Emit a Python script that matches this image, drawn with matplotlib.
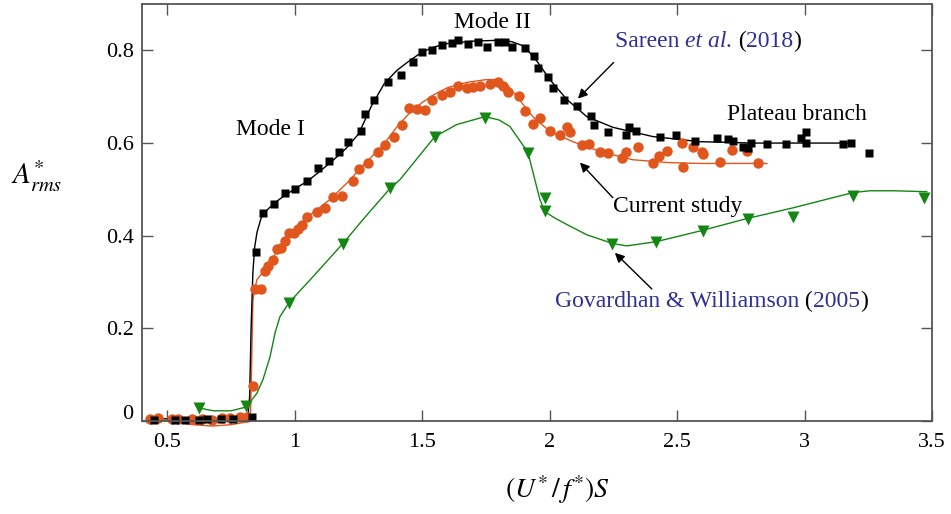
import numpy as np
import matplotlib
matplotlib.use("Agg")
import matplotlib.pyplot as plt
import matplotlib.transforms as mtransforms

plt.rcParams['font.family'] = ['Liberation Serif', 'DejaVu Serif']
plt.rcParams['mathtext.fontset'] = 'stix'

# Sareen et al. (2018) - black squares
sq_x = [0.447, 0.529, 0.569, 0.624, 0.655, 0.710, 0.757, 0.831, 0.847, 0.875, 0.918, 0.961,
        1.000, 1.047, 1.090, 1.133, 1.173, 1.208, 1.259, 1.275, 1.310, 1.365, 1.416, 1.463,
        1.498, 1.537, 1.576, 1.616, 1.639, 1.678, 1.718, 1.753, 1.796, 1.824, 1.851, 1.902,
        1.937, 1.953, 1.992, 2.012, 2.055, 2.106, 2.161, 2.173, 2.227, 2.298, 2.310, 2.337,
        2.431, 2.494, 2.569, 2.655, 2.698, 2.718, 2.757, 2.776, 2.788, 2.851, 2.925, 2.984,
        3.004, 3.004, 3.149, 3.180, 3.251]
sq_y = [0.003, 0.003, 0.003, 0.003, 0.005, 0.005, 0.005, 0.008, 0.365, 0.448, 0.469, 0.493,
        0.501, 0.519, 0.547, 0.562, 0.580, 0.603, 0.625, 0.662, 0.694, 0.732, 0.748, 0.774,
        0.796, 0.800, 0.811, 0.815, 0.822, 0.813, 0.819, 0.807, 0.818, 0.818, 0.807, 0.805,
        0.787, 0.763, 0.742, 0.718, 0.692, 0.681, 0.658, 0.638, 0.623, 0.618, 0.634, 0.627,
        0.614, 0.618, 0.605, 0.610, 0.608, 0.605, 0.592, 0.590, 0.601, 0.599, 0.599, 0.610,
        0.623, 0.601, 0.597, 0.601, 0.579]
sq_fit_x = [0.43, 0.6, 0.75, 0.815, 0.822, 0.828, 0.835, 0.842, 0.851, 0.871, 0.918, 0.96,
            1.008, 1.05, 1.1, 1.15, 1.2, 1.25, 1.3, 1.35, 1.4, 1.45, 1.5, 1.55, 1.6, 1.7,
            1.8, 1.85, 1.9, 1.953, 2.0, 2.067, 2.145, 2.247, 2.404, 2.588, 2.8, 3.0, 3.18]
sq_fit_y = [0.005, 0.004, 0.005, 0.007, 0.05, 0.2, 0.32, 0.375, 0.407, 0.445, 0.47, 0.487,
            0.504, 0.518, 0.54, 0.563, 0.588, 0.62, 0.68, 0.728, 0.757, 0.778, 0.797, 0.808,
            0.815, 0.82, 0.822, 0.819, 0.809, 0.774, 0.737, 0.694, 0.657, 0.634, 0.614, 0.603,
            0.600, 0.600, 0.600]

# Current study - orange circles
ci_x = [0.431, 0.463, 0.518, 0.541, 0.596, 0.635, 0.675, 0.714, 0.745, 0.784, 0.812, 0.835,
        0.843, 0.867, 0.882, 0.894, 0.914, 0.929, 0.945, 0.961, 0.976, 0.996, 1.012, 1.027,
        1.047, 1.086, 1.118, 1.149, 1.184, 1.227, 1.251, 1.286, 1.325, 1.353, 1.388, 1.420,
        1.447, 1.478, 1.510, 1.537, 1.576, 1.608, 1.639, 1.675, 1.698, 1.725, 1.765, 1.796,
        1.816, 1.835, 1.878, 1.902, 1.933, 1.961, 2.000, 2.039, 2.067, 2.078, 2.125, 2.153,
        2.196, 2.227, 2.282, 2.298, 2.345, 2.404, 2.427, 2.459, 2.522, 2.561, 2.518, 2.596,
        2.600, 2.667, 2.714, 2.773, 2.816]
ci_y = [0.004, 0.006, 0.004, 0.004, 0.004, 0.004, 0.002, 0.006, 0.006, 0.009, 0.009, 0.076,
        0.284, 0.284, 0.324, 0.335, 0.348, 0.372, 0.374, 0.389, 0.406, 0.406, 0.415, 0.424,
        0.441, 0.452, 0.460, 0.484, 0.486, 0.519, 0.545, 0.556, 0.580, 0.595, 0.614, 0.640,
        0.675, 0.673, 0.671, 0.692, 0.703, 0.710, 0.723, 0.718, 0.720, 0.723, 0.727, 0.732,
        0.723, 0.710, 0.701, 0.670, 0.642, 0.655, 0.627, 0.618, 0.634, 0.623, 0.595, 0.599,
        0.580, 0.578, 0.567, 0.580, 0.592, 0.558, 0.571, 0.582, 0.549, 0.592, 0.601, 0.580,
        0.576, 0.560, 0.586, 0.582, 0.558]
ci_fit_x = [0.431, 0.5, 0.6, 0.675, 0.75, 0.812, 0.826, 0.83, 0.835, 0.842, 0.851, 0.89,
            0.929, 0.98, 1.047, 1.137, 1.216, 1.255, 1.345, 1.4, 1.45, 1.5, 1.55, 1.6, 1.675,
            1.75, 1.792, 1.831, 1.871, 1.933, 2.0, 2.09, 2.196, 2.325, 2.459, 2.588, 2.851]
ci_fit_y = [0.004, 0.0, -0.008, -0.011, -0.008, -0.002, 0.02, 0.12, 0.26, 0.284, 0.305, 0.333,
            0.365, 0.402, 0.439, 0.478, 0.52, 0.545, 0.595, 0.635, 0.665, 0.688, 0.706, 0.72,
            0.731, 0.737, 0.737, 0.727, 0.70, 0.657, 0.625, 0.603, 0.582, 0.564, 0.558, 0.556,
            0.556]

# Govardhan & Williamson (2005) - green triangles
tr_x = [0.624, 0.808, 0.976, 1.188, 1.373, 1.549, 1.745, 1.914, 1.980, 1.980, 2.243, 2.416,
        2.600, 2.776, 2.953, 3.188, 3.467]
tr_y = [0.028, 0.032, 0.255, 0.383, 0.502, 0.614, 0.655, 0.579, 0.482, 0.454, 0.383, 0.387,
        0.411, 0.437, 0.441, 0.486, 0.482]
tr_fit_x = [0.624, 0.68, 0.75, 0.808, 0.83, 0.851, 0.875, 0.902, 0.922, 0.941, 0.976, 1.06,
            1.188, 1.267, 1.373, 1.412, 1.549, 1.635, 1.745, 1.80, 1.843, 1.914, 1.941, 1.961,
            1.98, 2.02, 2.067, 2.145, 2.247, 2.302, 2.416, 2.588, 2.773, 2.953, 3.188, 3.255,
            3.35, 3.478]
tr_fit_y = [0.028, 0.022, 0.022, 0.03, 0.045, 0.06, 0.09, 0.138, 0.19, 0.225, 0.255, 0.305,
            0.383, 0.435, 0.502, 0.521, 0.614, 0.64, 0.657, 0.65, 0.636, 0.58, 0.521, 0.478,
            0.452, 0.438, 0.424, 0.402, 0.383, 0.378, 0.387, 0.41, 0.437, 0.46, 0.493, 0.497,
            0.497, 0.495]

xticks = [0.5, 1, 1.5, 2, 2.5, 3, 3.5]
xticklabels = ['0.5', '1', '1.5', '2', '2.5', '3', '3.5']
yticks = [0, 0.2, 0.4, 0.6, 0.8]
yticklabels = ['0', '0.2', '0.4', '0.6', '0.8']

orange = '#E0561C'
green = '#138613'
blue = '#2E3192'
fs = 17

fig = plt.figure(figsize=(9.51, 5.14), dpi=100)
ax = fig.add_axes([0.1493, 0.181, 0.831, 0.811])

ax.plot(tr_fit_x, tr_fit_y, color=green, lw=1.0, clip_on=False)
ax.plot(ci_fit_x, ci_fit_y, color=orange, lw=1.0, clip_on=False)
ax.plot(sq_fit_x, sq_fit_y, color='black', lw=1.0, clip_on=False)
ax.plot(tr_x, tr_y, 'v', color=green, ms=8.5, mec='none', clip_on=False)
ax.plot(ci_x, ci_y, 'o', color=orange, ms=7.5, mec='none', clip_on=False)
ax.plot(sq_x, sq_y, 's', color='black', ms=6.3, mec='none', clip_on=False)

ax.set_xlim(0.4, 3.5)
ax.set_ylim(0, 0.9)
ax.set_xticks(xticks)
ax.set_xticklabels(xticklabels)
ax.set_yticks(yticks)
ax.set_yticklabels(yticklabels)
ax.tick_params(direction='in', length=8, width=1, color='#555555', top=True, right=True,
               labelsize=16)
ax.tick_params(axis='x', pad=9)
ax.tick_params(axis='y', pad=6)
for s in ax.spines.values():
    s.set_color('#555555')
    s.set_linewidth(1.3)

# the zero label sits a bit above its tick
off = mtransforms.ScaledTranslation(0, 9 / 100, fig.dpi_scale_trans)
ylabs = ax.get_yticklabels()
ylabs[0].set_transform(ylabs[0].get_transform() + off)

ax.set_xlabel(r'$(U^{*}\,/\,f^{*})S$', fontsize=20)
ax.xaxis.set_label_coords(0.525, -0.125)
ax.set_ylabel(r'$A^{*}_{rms}$', fontsize=21, rotation=0, labelpad=0)
ax.yaxis.set_label_coords(-0.133, 0.545)

ax.text(0.902, 0.629, 'Mode I', fontsize=fs, ha='center', va='center')
ax.text(1.776, 0.860, 'Mode II', fontsize=fs, ha='center', va='center')
ax.text(2.969, 0.662, 'Plateau branch', fontsize=fs, ha='center', va='center')
ax.text(2.502, 0.463, 'Current study', fontsize=fs, ha='center', va='center')


def multi_text(x, y, pieces):
    t = ax.text(x, y, pieces[0][0], color=pieces[0][1], style=pieces[0][2],
                fontsize=fs, ha='left', va='center')
    for s, c, st in pieces[1:]:
        t = ax.annotate(s, xycoords=t, xy=(1, 0), va='bottom', color=c, style=st,
                        fontsize=fs)


multi_text(2.255, 0.819, [('Sareen ', blue, 'normal'), ('et al.', blue, 'italic'),
                          (' (', 'black', 'normal'), ('2018', blue, 'normal'),
                          (')', 'black', 'normal')])
multi_text(2.02, 0.257, [('Govardhan & Williamson', blue, 'normal'),
                         (' (', 'black', 'normal'), ('2005', blue, 'normal'),
                         (')', 'black', 'normal')])

arrow = dict(arrowstyle='-|>', color='black', lw=1.0, mutation_scale=14, shrinkA=0, shrinkB=0)
ax.annotate('', xy=(2.11, 0.696), xytext=(2.25, 0.774), arrowprops=arrow)
ax.annotate('', xy=(2.118, 0.558), xytext=(2.247, 0.482), arrowprops=arrow)
ax.annotate('', xy=(2.255, 0.363), xytext=(2.40, 0.285), arrowprops=arrow)

fig.savefig('out.png', dpi=100)
